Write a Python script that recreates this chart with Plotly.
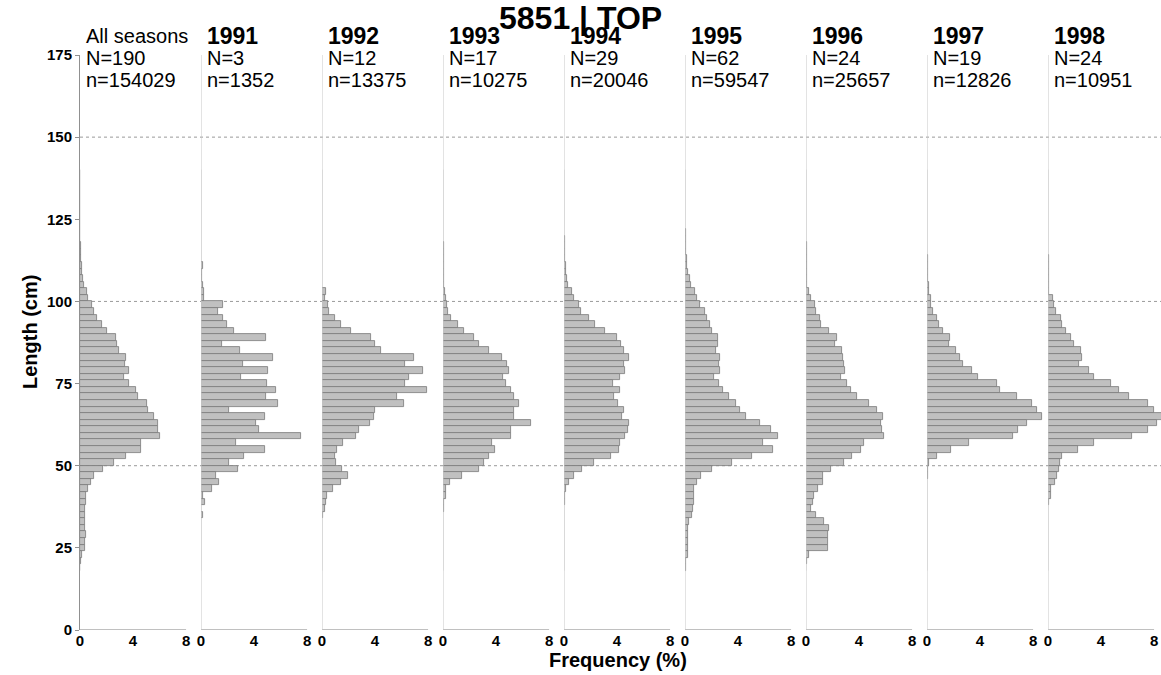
import plotly.graph_objects as go

# ---------------- data ----------------
BIN_TOP = list(range(140, 18, -2))   # upper edge of each 2-cm length bin (140 ... 20)

PANEL_LABELS = ["All seasons", "1991", "1992", "1993", "1994", "1995", "1996", "1997", "1998"]
N_HAULS = [190, 3, 12, 17, 29, 62, 24, 19, 24]
N_FISH = [154029, 1352, 13375, 10275, 20046, 59547, 25657, 12826, 10951]

FREQ_ALL = [0.02, 0.02, 0.02, 0.02, 0.02, 0.02, 0.02, 0.02, 0.03, 0.03,
            0.03, 0.04, 0.05, 0.10, 0.12, 0.18, 0.23, 0.30, 0.53, 0.60,
            0.88, 1.08, 1.30, 1.66, 2.04, 2.69, 2.77, 2.97, 3.47, 3.40,
            3.72, 3.32, 3.70, 4.23, 4.35, 5.08, 5.16, 5.58, 5.89, 5.89,
            6.04, 4.58, 4.58, 3.47, 2.57, 1.74, 1.08, 0.83, 0.58, 0.45,
            0.45, 0.35, 0.35, 0.35, 0.40, 0.43, 0.38, 0.38, 0.15, 0.08,
            0.03]
FREQ_1991 = [0, 0, 0, 0, 0, 0, 0, 0, 0, 0,
             0, 0, 0, 0, 0.15, 0.05, 0.07, 0.15, 0.20, 0.20,
             1.64, 1.28, 1.64, 1.96, 2.49, 4.93, 1.61, 2.97, 5.43, 3.14,
             5.08, 3.00, 5.00, 5.64, 4.88, 5.81, 2.11, 4.86, 4.15, 4.35,
             7.57, 2.64, 4.86, 3.25, 2.14, 2.77, 1.10, 1.36, 0.80, 0.12,
             0.28, 0, 0.15, 0, 0, 0, 0, 0, 0, 0,
             0]
FREQ_1992 = [0, 0, 0, 0.02, 0.02, 0, 0, 0, 0, 0.02,
             0.02, 0.02, 0, 0.03, 0.03, 0.03, 0.03, 0.03, 0.28, 0.20,
             0.43, 0.50, 0.96, 1.46, 2.19, 3.70, 3.97, 4.43, 6.92, 6.29,
             7.62, 6.57, 6.29, 7.90, 5.68, 6.19, 4.00, 3.90, 3.62, 2.79,
             2.57, 1.61, 1.16, 0.98, 1.06, 1.53, 1.96, 1.46, 0.80, 0.35,
             0.28, 0.20, 0.08, 0, 0, 0, 0, 0, 0, 0,
             0]
FREQ_1993 = [0, 0.02, 0.02, 0.02, 0.02, 0.02, 0.02, 0.02, 0.02, 0.03,
             0.03, 0.05, 0.05, 0.05, 0.06, 0.08, 0.08, 0.10, 0.15, 0.25,
             0.33, 0.40, 0.58, 1.10, 1.61, 2.31, 2.72, 3.50, 4.43, 4.83,
             4.96, 4.53, 4.73, 5.16, 5.36, 5.74, 5.38, 5.38, 6.62, 5.16,
             5.16, 3.72, 3.92, 3.45, 3.10, 2.72, 1.41, 0.55, 0.20, 0.25,
             0.10, 0.08, 0, 0, 0, 0, 0, 0, 0, 0,
             0]
FREQ_1994 = [0, 0, 0, 0, 0, 0, 0.02, 0.02, 0.03, 0.03,
             0.05, 0.05, 0.08, 0.10, 0.13, 0.18, 0.25, 0.30, 0.58, 0.78,
             1.16, 1.31, 1.89, 2.31, 3.07, 4.00, 4.28, 4.50, 4.88, 4.55,
             4.63, 4.20, 3.70, 4.20, 3.77, 4.05, 4.55, 4.40, 4.88, 4.80,
             4.58, 4.20, 4.15, 3.52, 2.26, 1.33, 0.75, 0.38, 0.15, 0.08,
             0.05, 0, 0, 0, 0, 0, 0, 0, 0, 0,
             0]
FREQ_1995 = [0.02, 0.02, 0.02, 0.02, 0.02, 0.02, 0.03, 0.03, 0.03, 0.05,
             0.05, 0.06, 0.08, 0.12, 0.15, 0.23, 0.38, 0.45, 0.73, 0.88,
             1.13, 1.48, 1.64, 1.91, 2.06, 2.47, 2.47, 2.31, 2.62, 2.59,
             2.64, 2.16, 2.54, 2.84, 3.30, 3.87, 4.15, 4.63, 5.66, 6.47,
             7.04, 5.91, 6.62, 5.06, 3.52, 2.04, 1.18, 0.88, 0.65, 0.70,
             0.70, 0.58, 0.50, 0.30, 0.23, 0.23, 0.23, 0.23, 0.23, 0.08,
             0.05]
FREQ_1996 = [0, 0, 0, 0.02, 0.02, 0.02, 0.02, 0.03, 0.03, 0.03,
             0.03, 0.05, 0.05, 0.06, 0.08, 0.08, 0.10, 0.10, 0.25, 0.38,
             0.68, 0.73, 1.03, 1.10, 1.71, 2.34, 2.19, 2.69, 2.77, 2.84,
             2.97, 2.64, 3.07, 3.40, 3.82, 4.73, 5.33, 5.84, 5.66, 5.74,
             5.91, 4.40, 4.15, 3.45, 2.89, 1.86, 1.26, 1.26, 0.88, 0.58,
             0.53, 0.38, 0.75, 1.33, 1.71, 1.64, 1.64, 1.66, 0.25, 0.08,
             0]
FREQ_1997 = [0.02, 0.02, 0.02, 0.02, 0.02, 0.02, 0.02, 0.02, 0.02, 0.02,
             0.03, 0.03, 0.03, 0.05, 0.05, 0.06, 0.10, 0.15, 0.18, 0.28,
             0.33, 0.48, 0.75, 0.88, 1.21, 1.71, 1.64, 2.19, 2.52, 2.72,
             3.37, 3.82, 5.28, 5.48, 6.77, 7.92, 8.30, 8.68, 7.57, 6.84,
             6.47, 3.14, 1.79, 0.75, 0.13, 0.08, 0.05, 0.03, 0.03, 0.03,
             0.03, 0.03, 0.02, 0.02, 0, 0, 0, 0, 0, 0,
             0]
FREQ_1998 = [0, 0, 0.02, 0.03, 0.03, 0.02, 0, 0.03, 0.03, 0.03,
             0.03, 0.02, 0.02, 0.05, 0.05, 0.05, 0.05, 0.05, 0.05, 0.35,
             0.43, 0.60, 1.00, 1.08, 1.36, 1.74, 1.96, 2.47, 2.57, 2.34,
             3.12, 3.47, 4.78, 5.36, 6.09, 7.55, 8.02, 8.70, 8.20, 7.55,
             6.31, 3.47, 2.24, 1.08, 0.88, 0.80, 0.65, 0.50, 0.20, 0.20,
             0.05, 0.03, 0.03, 0.03, 0.03, 0, 0, 0, 0, 0,
             0]

SERIES = [FREQ_ALL, FREQ_1991, FREQ_1992, FREQ_1993, FREQ_1994,
          FREQ_1995, FREQ_1996, FREQ_1997, FREQ_1998]

TITLE = "5851 | TOP"
Y_TICKS = [0, 25, 50, 75, 100, 125, 150, 175]
X_TICKS = [0, 4, 8]
GRID_Y = [50, 100, 150]

# ---------------- layout geometry ----------------
# body margin is removed with a post_script, so the figure fills the window
W, H = 1161, 675
PLOT_LEFT, PLOT_TOP, PLOT_BOTTOM = 80, 55, 630   # in screenshot pixels
ML, MT, MB, MR = PLOT_LEFT, PLOT_TOP, H - PLOT_BOTTOM, 0
PW = W - ML - MR
PH = H - MT - MB
PANEL_PX = 121.0
PX_PER_PCT = 13.26
FONT = "Liberation Sans, Arial, sans-serif"

def py_to_paper(py):
    return (PLOT_BOTTOM - py) / PH

def px_to_paper(px):
    return (px - PLOT_LEFT) / PW

centers = [t - 1 for t in BIN_TOP]

fig = go.Figure()
layout_axes = {}
shapes = []
annotations = []

for k, vals in enumerate(SERIES):
    ax = "x" if k == 0 else f"x{k+1}"
    axname = "xaxis" if k == 0 else f"xaxis{k+1}"
    d0 = k * PANEL_PX / PW
    d1 = min((k + 1) * PANEL_PX / PW, 1.0)
    width_px = (d1 - d0) * PW
    fig.add_trace(go.Bar(
        x=vals, y=centers, orientation="h", width=2,
        xaxis=ax, yaxis="y",
        marker=dict(color="#c0c0c0", line=dict(color="#7a7a7a", width=0.8)),
        showlegend=False, hoverinfo="x+y",
    ))
    layout_axes[axname] = dict(
        domain=[d0, d1], range=[0, width_px / PX_PER_PCT], anchor="y",
        showgrid=False, zeroline=False, showline=False,
        tickvals=X_TICKS, ticktext=[str(v) for v in X_TICKS],
        ticks="",
        tickfont=dict(family=FONT, size=15, color="black", weight="bold"),
        fixedrange=True,
    )
    # bottom axis line from 0 to 8
    shapes.append(dict(type="line", xref=ax, yref="y", x0=0, x1=8, y0=0, y1=0,
                       line=dict(color="#808080", width=1), layer="above"))
    # vertical separator line for each season panel
    if k > 0:
        shapes.append(dict(type="line", xref=ax, yref="y", x0=0, x1=0, y0=0, y1=175,
                           line=dict(color="#c8c8c8", width=1), layer="above"))
    # headers
    xref_dom = f"{ax} domain"
    label = PANEL_LABELS[k]
    if k == 0:
        annotations.append(dict(text=label, xref=xref_dom, x=0, xshift=4, xanchor="left",
                                yref="paper", y=py_to_paper(36), yanchor="middle",
                                showarrow=False, font=dict(family=FONT, size=20, color="black")))
    else:
        annotations.append(dict(text=f"<b>{label}</b>", xref=xref_dom, x=0, xshift=4, xanchor="left",
                                yref="paper", y=py_to_paper(36), yanchor="middle",
                                showarrow=False, font=dict(family=FONT, size=23, color="black")))
    annotations.append(dict(text=f"N={N_HAULS[k]}", xref=xref_dom, x=0, xshift=4, xanchor="left",
                            yref="paper", y=py_to_paper(58), yanchor="middle",
                            showarrow=False, font=dict(family=FONT, size=20, color="black")))
    annotations.append(dict(text=f"n={N_FISH[k]}", xref=xref_dom, x=0, xshift=4, xanchor="left",
                            yref="paper", y=py_to_paper(80), yanchor="middle",
                            showarrow=False, font=dict(family=FONT, size=20, color="black")))

for g in GRID_Y:
    shapes.append(dict(type="line", xref="paper", yref="y", x0=0, x1=1, y0=g, y1=g,
                       line=dict(color="#9a9a9a", width=1, dash="dot"), layer="below"))

annotations.append(dict(text=f"<b>{TITLE}</b>", xref="paper", x=px_to_paper(580), xanchor="center",
                        yref="paper", y=py_to_paper(18), yanchor="middle", showarrow=False,
                        font=dict(family=FONT, size=32, color="black")))
annotations.append(dict(text="<b>Length (cm)</b>", xref="paper", x=px_to_paper(30), xanchor="center",
                        yref="paper", y=py_to_paper(332), yanchor="middle", textangle=-90,
                        showarrow=False, font=dict(family=FONT, size=20, color="black")))
annotations.append(dict(text="<b>Frequency (%)</b>", xref="paper", x=px_to_paper(618), xanchor="center",
                        yref="paper", y=py_to_paper(660), yanchor="middle",
                        showarrow=False, font=dict(family=FONT, size=20, color="black")))

fig.update_layout(
    width=W, height=H,
    margin=dict(l=ML, r=MR, t=MT, b=MB),
    paper_bgcolor="white", plot_bgcolor="white",
    bargap=0, barmode="overlay",
    yaxis=dict(range=[0, 175], tickvals=Y_TICKS, showgrid=False, zeroline=False,
               showline=True, linecolor="#909090", linewidth=1,
               ticks="outside", ticklen=4, tickcolor="#909090",
               tickfont=dict(family=FONT, size=15, color="black", weight="bold"),
               anchor="x", fixedrange=True),
    shapes=shapes, annotations=annotations,
    font=dict(family=FONT),
    **layout_axes,
)

fig.write_html("out.html", config={"displayModeBar": False},
               post_script="document.body.style.margin='0';document.body.style.overflow='hidden';")
